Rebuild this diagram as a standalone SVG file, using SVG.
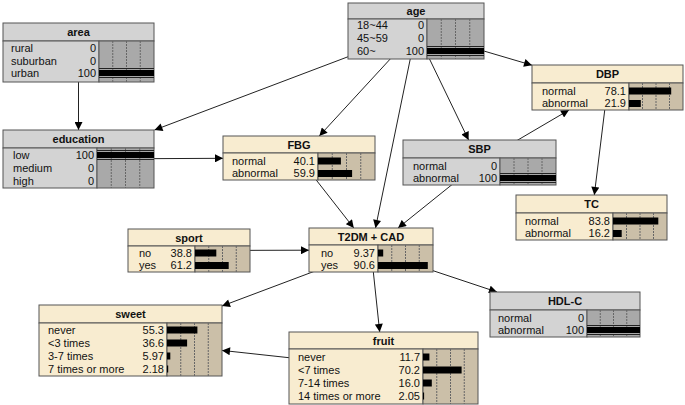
<svg xmlns="http://www.w3.org/2000/svg" width="685" height="405" viewBox="0 0 685 405">
<style>
text{font-family:"Liberation Sans",Arial,sans-serif;font-size:11px;fill:#111}
.t{font-weight:bold;text-anchor:middle}
.v{text-anchor:end}
.box{stroke:#555;stroke-width:1}
.g .hd,.g .bd{fill:#d3d3d3}
.g .br{fill:#a9a9a9}
.b .hd,.b .bd{fill:#f8ecd0}
.b .br{fill:#cbbfa8}
.grid{stroke:#666;stroke-width:1;stroke-dasharray:2 1}
.bar{fill:#000}
.ev{stroke:#222;stroke-width:1}
.lk{stroke:#222;stroke-width:1;fill:none;marker-end:url(#ah)}
</style>
<defs>
<marker id="ah" viewBox="0 0 10 10" refX="10" refY="5" markerWidth="9" markerHeight="8" markerUnits="userSpaceOnUse" orient="auto">
<path d="M0,0 L10,5 L0,10 z" fill="#000"/>
</marker>
</defs>
<rect width="685" height="405" fill="#fff"/>
<g id="connectors">
<line class="lk" x1="78.5" y1="52.5" x2="78.5" y2="130"/>
<line class="lk" x1="416" y1="31" x2="154.5" y2="130"/>
<line class="lk" x1="416" y1="31" x2="319.3" y2="136"/>
<line class="lk" x1="416" y1="31" x2="375.5" y2="228"/>
<line class="lk" x1="416" y1="31" x2="468.6" y2="140"/>
<line class="lk" x1="416" y1="31" x2="532" y2="65.2"/>
<line class="lk" x1="78.5" y1="159" x2="223" y2="158.3"/>
<line class="lk" x1="479.5" y1="162.5" x2="569" y2="110"/>
<line class="lk" x1="607.5" y1="87.5" x2="594.3" y2="195"/>
<line class="lk" x1="299" y1="158" x2="353.8" y2="228"/>
<line class="lk" x1="479.5" y1="162.5" x2="398" y2="228"/>
<line class="lk" x1="189" y1="250.5" x2="309" y2="250.2"/>
<line class="lk" x1="371" y1="250" x2="222" y2="306"/>
<line class="lk" x1="371" y1="250" x2="379.7" y2="332"/>
<line class="lk" x1="371" y1="250" x2="497" y2="292"/>
<line class="lk" x1="383.5" y1="368" x2="222" y2="350.4"/>
</g>

<g id="area" class="g">
<rect class="box hd" x="3" y="23" width="151" height="18"/>
<rect class="box bd" x="3" y="41" width="96" height="41"/>
<rect class="box br" x="99" y="41" width="55" height="41"/>
<path class="grid" d="M112.75,41V82M126.5,41V82M140.25,41V82"/>
<text class="t" x="78.5" y="36">area</text>
<text x="11" y="52">rural</text><text class="v" x="96" y="52">0</text>
<text x="11" y="65">suburban</text><text class="v" x="96" y="65">0</text>
<text x="11" y="77">urban</text><text class="v" x="96" y="77">100</text>
<rect class="bar" x="99" y="70" width="55" height="6"/>
<path class="ev" d="M99,68.5H154M99,77.5H154"/>
</g>

<g id="age" class="g">
<rect class="box hd" x="348" y="3" width="136" height="16"/>
<rect class="box bd" x="348" y="19" width="79" height="40"/>
<rect class="box br" x="427" y="19" width="57" height="40"/>
<path class="grid" d="M441.25,19V59M455.5,19V59M469.75,19V59"/>
<text class="t" x="416" y="15">age</text>
<text x="357" y="29">18~44</text><text class="v" x="424" y="29">0</text>
<text x="357" y="42">45~59</text><text class="v" x="424" y="42">0</text>
<text x="357" y="55">60~</text><text class="v" x="424" y="55">100</text>
<rect class="bar" x="427" y="48" width="57" height="6"/>
<path class="ev" d="M427,46.5H484M427,55.5H484"/>
</g>

<g id="education" class="g">
<rect class="box hd" x="3" y="130" width="151" height="18"/>
<rect class="box bd" x="3" y="148" width="94" height="40"/>
<rect class="box br" x="97" y="148" width="57" height="40"/>
<path class="grid" d="M111.25,148V188M125.5,148V188M139.75,148V188"/>
<text class="t" x="78.5" y="143">education</text>
<text x="13" y="159">low</text><text class="v" x="94" y="159">100</text>
<text x="13" y="172">medium</text><text class="v" x="94" y="172">0</text>
<text x="13" y="185">high</text><text class="v" x="94" y="185">0</text>
<rect class="bar" x="97" y="152" width="57" height="6"/>
<path class="ev" d="M97,150.5H154M97,159.5H154"/>
</g>

<g id="FBG" class="b">
<rect class="box hd" x="223" y="136" width="152" height="17"/>
<rect class="box bd" x="223" y="153" width="95" height="27"/>
<rect class="box br" x="318" y="153" width="57" height="27"/>
<path class="grid" d="M332.25,153V180M346.5,153V180M360.75,153V180"/>
<text class="t" x="299" y="148.5">FBG</text>
<text x="232" y="165">normal</text><text class="v" x="315" y="165">40.1</text>
<text x="232" y="177">abnormal</text><text class="v" x="315" y="177">59.9</text>
<rect class="bar" x="318" y="157.5" width="22.9" height="7"/>
<rect class="bar" x="318" y="170" width="34.1" height="7"/>
</g>

<g id="SBP" class="g">
<rect class="box hd" x="403" y="140" width="153" height="18"/>
<rect class="box bd" x="403" y="158" width="97" height="27"/>
<rect class="box br" x="500" y="158" width="56" height="27"/>
<path class="grid" d="M514,158V185M528,158V185M542,158V185"/>
<text class="t" x="479.5" y="153">SBP</text>
<text x="413" y="170">normal</text><text class="v" x="497" y="170">0</text>
<text x="413" y="182">abnormal</text><text class="v" x="497" y="182">100</text>
<rect class="bar" x="500" y="175" width="56" height="6"/>
<path class="ev" d="M500,173.5H556M500,182.5H556"/>
</g>

<g id="DBP" class="b">
<rect class="box hd" x="532" y="65" width="151" height="18"/>
<rect class="box bd" x="532" y="83" width="97" height="27"/>
<rect class="box br" x="629" y="83" width="54" height="27"/>
<path class="grid" d="M642.5,83V110M656,83V110M669.5,83V110"/>
<text class="t" x="607.5" y="78">DBP</text>
<text x="542" y="95">normal</text><text class="v" x="626" y="95">78.1</text>
<text x="542" y="107">abnormal</text><text class="v" x="626" y="107">21.9</text>
<rect class="bar" x="629" y="87.5" width="42.2" height="7"/>
<rect class="bar" x="629" y="100" width="11.8" height="7"/>
</g>

<g id="TC" class="b">
<rect class="box hd" x="516" y="195" width="151" height="18"/>
<rect class="box bd" x="516" y="213" width="97" height="27"/>
<rect class="box br" x="613" y="213" width="54" height="27"/>
<path class="grid" d="M626.5,213V240M640,213V240M653.5,213V240"/>
<text class="t" x="591.5" y="208">TC</text>
<text x="525" y="225">normal</text><text class="v" x="610" y="225">83.8</text>
<text x="525" y="237">abnormal</text><text class="v" x="610" y="237">16.2</text>
<rect class="bar" x="613" y="217.5" width="45.3" height="7"/>
<rect class="bar" x="613" y="230" width="8.7" height="7"/>
</g>

<g id="sport" class="b">
<rect class="box hd" x="128" y="229" width="122" height="17"/>
<rect class="box bd" x="128" y="246" width="67" height="26"/>
<rect class="box br" x="195" y="246" width="55" height="26"/>
<path class="grid" d="M208.75,246V272M222.5,246V272M236.25,246V272"/>
<text class="t" x="189" y="241.5">sport</text>
<text x="139" y="257">no</text><text class="v" x="192" y="257">38.8</text>
<text x="139" y="269">yes</text><text class="v" x="192" y="269">61.2</text>
<rect class="bar" x="195" y="249.5" width="21.3" height="7"/>
<rect class="bar" x="195" y="262" width="33.7" height="7"/>
</g>

<g id="T2DM_CAD" class="b">
<rect class="box hd" x="309" y="228" width="124" height="17"/>
<rect class="box bd" x="309" y="245" width="69" height="27"/>
<rect class="box br" x="378" y="245" width="55" height="27"/>
<path class="grid" d="M391.75,245V272M405.5,245V272M419.25,245V272"/>
<text class="t" x="371" y="240.5">T2DM + CAD</text>
<text x="321" y="257">no</text><text class="v" x="375" y="257">9.37</text>
<text x="321" y="269">yes</text><text class="v" x="375" y="269">90.6</text>
<rect class="bar" x="378" y="249.5" width="5.2" height="7"/>
<rect class="bar" x="378" y="262" width="49.8" height="7"/>
</g>

<g id="sweet" class="b">
<rect class="box hd" x="39" y="305" width="183" height="18"/>
<rect class="box bd" x="39" y="323" width="128" height="53"/>
<rect class="box br" x="167" y="323" width="55" height="53"/>
<path class="grid" d="M180.75,323V376M194.5,323V376M208.25,323V376"/>
<text class="t" x="130.5" y="318">sweet</text>
<text x="48" y="334">never</text><text class="v" x="164" y="334">55.3</text>
<text x="48" y="347">&lt;3 times</text><text class="v" x="164" y="347">36.6</text>
<text x="48" y="360">3-7 times</text><text class="v" x="164" y="360">5.97</text>
<text x="48" y="373">7 times or more</text><text class="v" x="164" y="373">2.18</text>
<rect class="bar" x="167" y="326.5" width="30.4" height="7"/>
<rect class="bar" x="167" y="339.5" width="20.1" height="7"/>
<rect class="bar" x="167" y="352.5" width="3.3" height="7"/>
<rect class="bar" x="167" y="365.5" width="1.2" height="7"/>
</g>

<g id="fruit" class="b">
<rect class="box hd" x="289" y="332" width="189" height="17"/>
<rect class="box bd" x="289" y="349" width="134" height="55"/>
<rect class="box br" x="423" y="349" width="55" height="55"/>
<path class="grid" d="M436.75,349V404M450.5,349V404M464.25,349V404"/>
<text class="t" x="383.5" y="344.5">fruit</text>
<text x="298" y="361">never</text><text class="v" x="420" y="361">11.7</text>
<text x="298" y="374">&lt;7 times</text><text class="v" x="420" y="374">70.2</text>
<text x="298" y="387">7-14 times</text><text class="v" x="420" y="387">16.0</text>
<text x="298" y="400">14 times or more</text><text class="v" x="420" y="400">2.05</text>
<rect class="bar" x="423" y="353.5" width="6.4" height="7"/>
<rect class="bar" x="423" y="366.5" width="38.6" height="7"/>
<rect class="bar" x="423" y="379.5" width="8.8" height="7"/>
<rect class="bar" x="423" y="392.5" width="1.1" height="7"/>
</g>

<g id="HDL-C" class="g">
<rect class="box hd" x="490" y="292" width="150" height="18"/>
<rect class="box bd" x="490" y="310" width="97" height="27"/>
<rect class="box br" x="587" y="310" width="53" height="27"/>
<path class="grid" d="M600.25,310V337M613.5,310V337M626.75,310V337"/>
<text class="t" x="565" y="305">HDL-C</text>
<text x="498" y="322">normal</text><text class="v" x="584" y="322">0</text>
<text x="498" y="334">abnormal</text><text class="v" x="584" y="334">100</text>
<rect class="bar" x="587" y="327" width="53" height="6"/>
<path class="ev" d="M587,325.5H640M587,334.5H640"/>
</g>
</svg>
